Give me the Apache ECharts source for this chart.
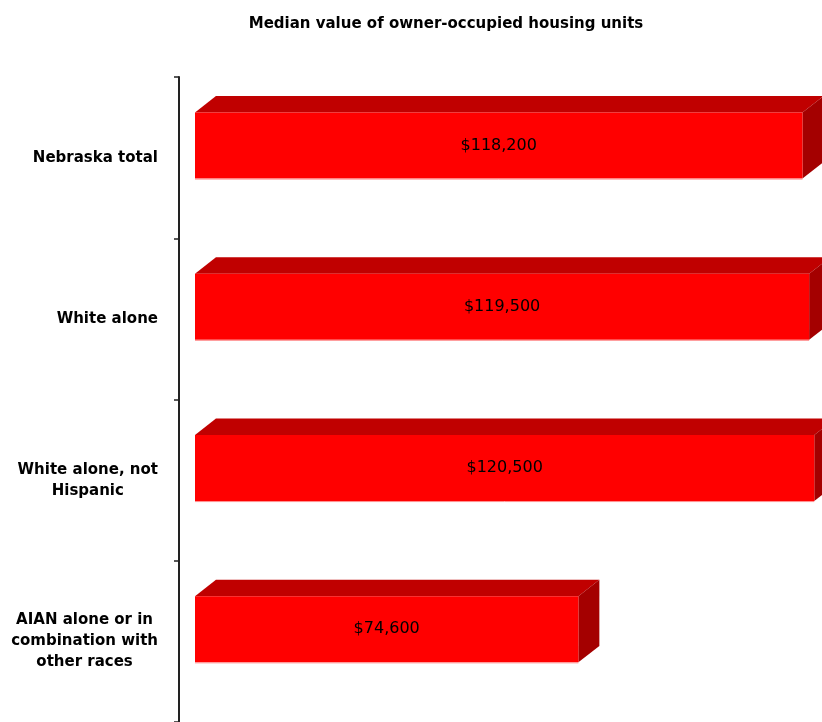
<!DOCTYPE html>
<html>
<head>
<meta charset="utf-8">
<script src="https://cdn.jsdelivr.net/npm/echarts@6/dist/echarts.min.js"></script>
<style>
html,body{margin:0;padding:0;background:#fff;}
#chart{width:822px;height:722px;}
</style>
</head>
<body>
<div id="chart"></div>
<script>
var titleText = 'Median value of owner-occupied housing units';
var categories = [
  'Nebraska total',
  'White alone',
  'White alone, not\nHispanic',
  'AIAN alone or in\ncombination with\nother races'
];
var medianValues = [118200, 119500, 120500, 74600];

function fmtMoney(v) {
  return '$' + String(Math.round(v)).replace(/\B(?=(\d{3})+(?!\d))/g, ',');
}

var chart = echarts.init(document.getElementById('chart'), null, {renderer: 'canvas'});

var seriesData = medianValues.map(function (v, i) { return [v, i]; });

chart.setOption({
  backgroundColor: '#ffffff',
  animation: false,
  title: {
    text: titleText,
    left: 441,
    textAlign: 'center',
    top: 12,
    textStyle: {fontFamily: 'DejaVu Sans', fontWeight: 'bold', fontSize: 15, color: '#000'}
  },
  grid: {left: 195, right: 0, top: 77, bottom: -2, containLabel: false},
  xAxis: {
    type: 'value', min: 0, max: 122000, show: false
  },
  yAxis: {
    type: 'category',
    data: categories,
    inverse: true,
    offset: 16,
    axisLine: {show: true, onZero: false, lineStyle: {color: '#222', width: 2}},
    axisTick: {show: true, length: 5, lineStyle: {color: '#222', width: 1.5}},
    splitLine: {show: false},
    axisLabel: {
      margin: 21,
      align: 'right',
      formatter: function (val) {
        return val.split('\n').map(function (l) { return '{c|' + l + '}'; }).join('\n');
      },
      rich: {
        c: {align: 'center', fontFamily: 'DejaVu Sans', fontWeight: 'bold', fontSize: 15, lineHeight: 21, color: '#000'}
      }
    }
  },
  series: [{
    type: 'custom',
    clip: false,
    encode: {x: 0, y: 1},
    data: seriesData,
    renderItem: function (params, api) {
      var v = api.value(0), c = api.value(1);
      var p0 = api.coord([0, c]);
      var p1 = api.coord([v, c]);
      var band = api.size([0, 1])[1];
      var yT = p0[1] - 0.28 * band;
      var yB = p0[1] + 0.13 * band;
      var dx = 0.13 * band, dy = 0.102 * band;
      var x0 = p0[0], x1 = p1[0];
      return {
        type: 'group',
        children: [
          {type: 'polygon', shape: {points: [[x0, yT], [x0 + dx, yT - dy], [x1 + dx, yT - dy], [x1, yT]]}, style: {fill: '#C00000'}},
          {type: 'polygon', shape: {points: [[x1, yT], [x1 + dx, yT - dy], [x1 + dx, yB - dy], [x1, yB]]}, style: {fill: '#A40000'}},
          {type: 'rect', shape: {x: x0, y: yT, width: x1 - x0, height: yB - yT}, style: {fill: '#FF0000'}},
          {type: 'line', shape: {x1: x0, y1: yB + 0.5, x2: x1, y2: yB + 0.5}, style: {stroke: '#FF8A8A', lineWidth: 1}},
          {type: 'text', style: {
            text: fmtMoney(v), x: (x0 + x1) / 2, y: (yT + yB) / 2,
            align: 'center', verticalAlign: 'middle',
            font: '16px "DejaVu Sans"', fill: '#000'
          }}
        ]
      };
    }
  }]
});
</script>
</body>
</html>
